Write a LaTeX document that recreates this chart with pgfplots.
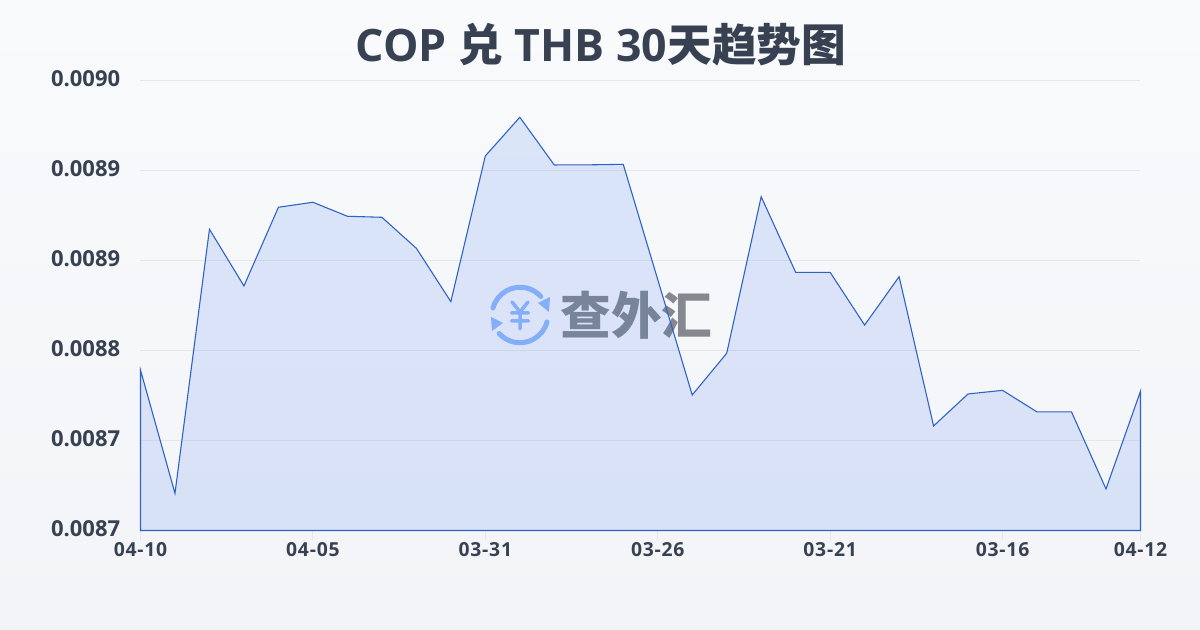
\documentclass[border=0pt]{standalone}
\usepackage{fontspec}
\setmainfont{Open Sans}
\newfontfamily\cjk{Noto Sans CJK SC}
\newfontfamily\xlab[LetterSpace=4]{Open Sans}
\usepackage{pgfplots}
\pgfplotsset{compat=1.18}
\definecolor{txt}{HTML}{374151}
\definecolor{ln}{HTML}{2F62C6}
\definecolor{fl}{HTML}{2563EB}
\definecolor{ticklite}{HTML}{E5E7EB}
\definecolor{bgtop}{HTML}{F8FAFC}
\definecolor{bgbot}{HTML}{F2F4F7}
\definecolor{wm}{HTML}{85898F}
\definecolor{icon}{HTML}{93BBFA}
\begin{document}
\begin{tikzpicture}[x=0.6pt,y=0.6pt]
\useasboundingbox (0,0) rectangle (1200,630);
\shade[top color=bgtop,bottom color=bgbot,shading angle=0] (0,0) rectangle (1200,630);
% watermark
\draw[icon,line width=3pt,line cap=round] (493,322) arc[start angle=165,end angle=42,radius=28];
\draw[icon,line width=3pt,line cap=round] (547,308) arc[start angle=-15,end angle=-138,radius=28];
\fill[icon] (550,333)--(549,318)--(538,327)--cycle;
\fill[icon] (491,313)--(492,299)--(503,307)--cycle;
\draw[icon,line width=2.1pt,line cap=round,line join=round] (512,328)--(520,318)--(528,328) (520,318)--(520,301) (511.5,317)--(528.5,317) (511.5,309)--(528.5,309);
\node[wm,font=\cjk\bfseries\fontsize{30.4}{31}\selectfont,anchor=center,inner sep=0pt] at (636.5,315) {查外汇};
\node[txt,font=\bfseries\fontsize{26.8}{30}\selectfont,anchor=center,inner sep=0pt] at (601,585) {COP {\cjk 兑} THB 30{\cjk 天趋势图}};
\begin{axis}[
  at={(84.3pt,59.7pt)},anchor=south west,
  scale only axis,width=600pt,height=270pt,
  xmin=0,xmax=29,ymin=0.00865,ymax=0.0090,
  axis line style={draw=none},
  scaled y ticks=false,
  xtick pos=bottom,
  xtick={0,5,10,15,20,25,29},
  xticklabels={04-10,04-05,03-31,03-26,03-21,03-16,04-12},
  ytick={0.00865,0.00872,0.00879,0.00886,0.00893,0.0090},
  yticklabels={0.0087,0.0087,0.0088,0.0089,0.0089,0.0090},
  ymajorgrids,
  grid style={ticklite,line width=0.6pt},
  tick align=outside,
  major tick length=6pt,
  xtick style={ticklite,line width=0.6pt},
  ytick style={draw=none},
  tick label style={txt,font=\bfseries},
  yticklabel style={font=\bfseries\fontsize{13.2}{14}\selectfont,inner sep=0pt,xshift=-6pt,yshift=1pt},
  xticklabel style={font=\xlab\bfseries\fontsize{11.6}{13}\selectfont,inner sep=0pt,yshift=-1pt},
  clip=false,
]
\addplot[draw=ln,line width=0.65pt,fill=fl,fill opacity=0.13,line join=miter] coordinates {
(0,0.0087748)(1,0.0086789)(2,0.0088843)(3,0.0088402)(4,0.0089014)(5,0.0089053)
(6,0.0088944)(7,0.0088936)(8,0.0088695)(9,0.0088280)(10,0.0089413)(11,0.0089714)
(12,0.0089343)(13,0.0089344)(14,0.0089348)(15,0.0088452)(16,0.0087554)(17,0.0087878)
(18,0.0089096)(19,0.0088508)(20,0.0088508)(21,0.0088098)(22,0.0088474)(23,0.0087313)
(24,0.0087562)(25,0.0087590)(26,0.0087422)(27,0.0087422)(28,0.0086823)(29,0.0087583)
} \closedcycle;
\end{axis}
\end{tikzpicture}
\end{document}
